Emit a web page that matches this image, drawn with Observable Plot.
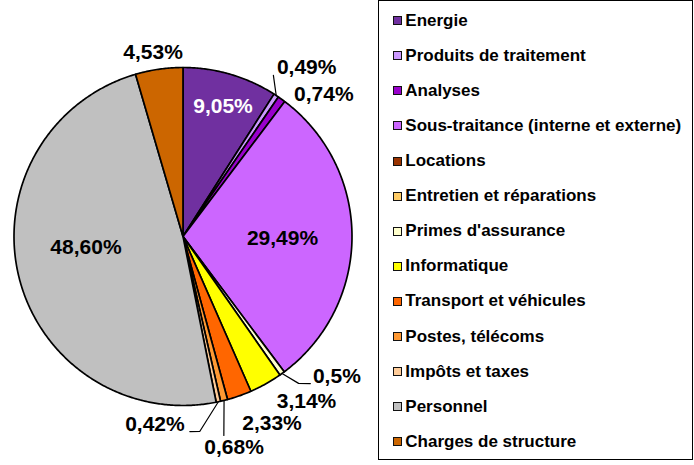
<!DOCTYPE html>
<html><head><meta charset="utf-8">
<script src="https://cdn.jsdelivr.net/npm/d3@7"></script>
<script src="https://cdn.jsdelivr.net/npm/@observablehq/plot@0.6"></script>
<style>
body{margin:0;background:#fff;font-family:"Liberation Sans",Arial,sans-serif;}
#wrap{position:relative;width:694px;height:465px;overflow:hidden;}
#chart{position:absolute;left:0;top:0;}
#legend{position:absolute;left:378px;top:0;width:315px;height:460px;border:1px solid #000;box-sizing:border-box;}
.item{position:absolute;white-space:nowrap;font-weight:bold;font-size:17px;line-height:17px;color:#000;}
.sw{position:absolute;width:7px;height:7px;border:1.5px solid #111;}
</style></head><body>
<div id="wrap"><div id="chart"></div><div id="legend"></div></div>
<script>
// ---- data ----
const categories = ["Energie","Produits de traitement","Analyses","Sous-traitance (interne et externe)","Locations","Entretien et réparations","Primes d'assurance","Informatique","Transport et véhicules","Postes, télécoms","Impôts et taxes","Personnel","Charges de structure"];
const values = [9.05, 0.49, 0.74, 29.49, 0, 0, 0.5, 3.14, 2.33, 0.68, 0.42, 48.60, 4.53];
const valueLabels = ["9,05%","0,49%","0,74%","29,49%","","","0,5%","3,14%","2,33%","0,68%","0,42%","48,60%","4,53%"];
const colors = ["#7030A0","#CC99FF","#9900CC","#CC66FF","#993300","#FFCC66","#FFFFCC","#FFFF00","#FF6600","#FF9933","#FFCC99","#C0C0C0","#CC6600"];

// ---- layout config (label placement, polar: angle in degrees clockwise from top, radius factor) ----
const labelPlace = {
  "Energie": [17.1, 0.805, "#fff"],
  "Produits de traitement": [36.2, 1.239, "#000"],
  "Analyses": [44.8, 1.183, "#000"],
  "Sous-traitance (interne et externe)": [91.2, 0.589, "#000"],
  "Primes d'assurance": [132.3, 1.231, "#000"],
  "Informatique": [143.1, 1.217, "#000"],
  "Transport et véhicules": [154.55, 1.225, "#000"],
  "Postes, télécoms": [166.4, 1.284, "#000"],
  "Impôts et taxes": [188.5, 1.125, "#000"],
  "Personnel": [263.5, 0.578, "#000"],
  "Charges de structure": [350.8, 1.106, "#000"]
};
const leaderPlace = {
  "Produits de traitement": [["mid",1],[29.3,1.093]],
  "Primes d'assurance": [["mid",1],[141.8,1.106],[139.1,1.151]],
  "Postes, télécoms": [["mid",1],[168.4,1.202]],
  "Impôts et taxes": [["mid",1],[175.1,1.158],[178.0,1.155]]
};

// ---- build pie geometry ----
const total = d3.sum(values);
let acc = 0;
const slices = categories.map((name, i) => {
  const a0 = acc / total * 2 * Math.PI; acc += values[i];
  const a1 = acc / total * 2 * Math.PI;
  return {name, i, a0, a1, mid: (a0 + a1) / 2};
});
const pts = [];
for (const s of slices) {
  if (s.a1 - s.a0 <= 0) continue;
  pts.push({name: s.name, color: colors[s.i], x: 0, y: 0});
  const n = Math.max(2, Math.ceil((s.a1 - s.a0) / (Math.PI / 360)));
  for (let k = 0; k <= n; k++) {
    const a = s.a0 + (s.a1 - s.a0) * k / n;
    pts.push({name: s.name, color: colors[s.i], x: Math.sin(a), y: Math.cos(a)});
  }
}
const rad = d => d * Math.PI / 180;
const labels = slices.filter(s => valueLabels[s.i] && labelPlace[s.name]).map(s => {
  const [ang, r, c] = labelPlace[s.name];
  return {text: valueLabels[s.i], x: r * Math.sin(rad(ang)), y: r * Math.cos(rad(ang)), c};
});
const leaders = [];
for (const s of slices) {
  const spec = leaderPlace[s.name];
  if (!spec) continue;
  for (const [ang, r] of spec) {
    const a = ang === "mid" ? s.mid : rad(ang);
    leaders.push({name: s.name, x: r * Math.sin(a), y: r * Math.cos(a)});
  }
}

const chart = Plot.plot({
  width: 694, height: 465,
  x: {domain: [-1, 1], range: [13.5, 351.5], axis: null},
  y: {domain: [-1, 1], range: [405, 67], axis: null},
  color: {type: "identity"},
  style: {background: "transparent"},
  marks: [
    Plot.line(pts, {x: "x", y: "y", z: "name", fill: "color", stroke: "#000", strokeWidth: 1.7, curve: "linear-closed", strokeLinejoin: "round"}),
    Plot.line(leaders, {x: "x", y: "y", z: "name", stroke: "#000", strokeWidth: 1.2}),
    Plot.text(labels, {x: "x", y: "y", text: "text", fill: "c", fontSize: 21, fontWeight: "bold", fontFamily: "Liberation Sans, Arial, sans-serif"})
  ]
});
document.getElementById("chart").appendChild(chart);

// ---- legend ----
const legend = document.getElementById("legend");
categories.forEach((name, i) => {
  const baseline = 25 + i * 35.1;
  const sw = document.createElement("div");
  sw.className = "sw";
  sw.style.left = (392.7 - 379) + "px";
  sw.style.top = (baseline - 9.9) + "px";
  sw.style.background = colors[i];
  legend.appendChild(sw);
  const t = document.createElement("div");
  t.className = "item";
  t.style.left = (405.3 - 379) + "px";
  t.style.top = (baseline - 14.4) + "px";
  t.textContent = name;
  legend.appendChild(t);
});
</script>
</body></html>
